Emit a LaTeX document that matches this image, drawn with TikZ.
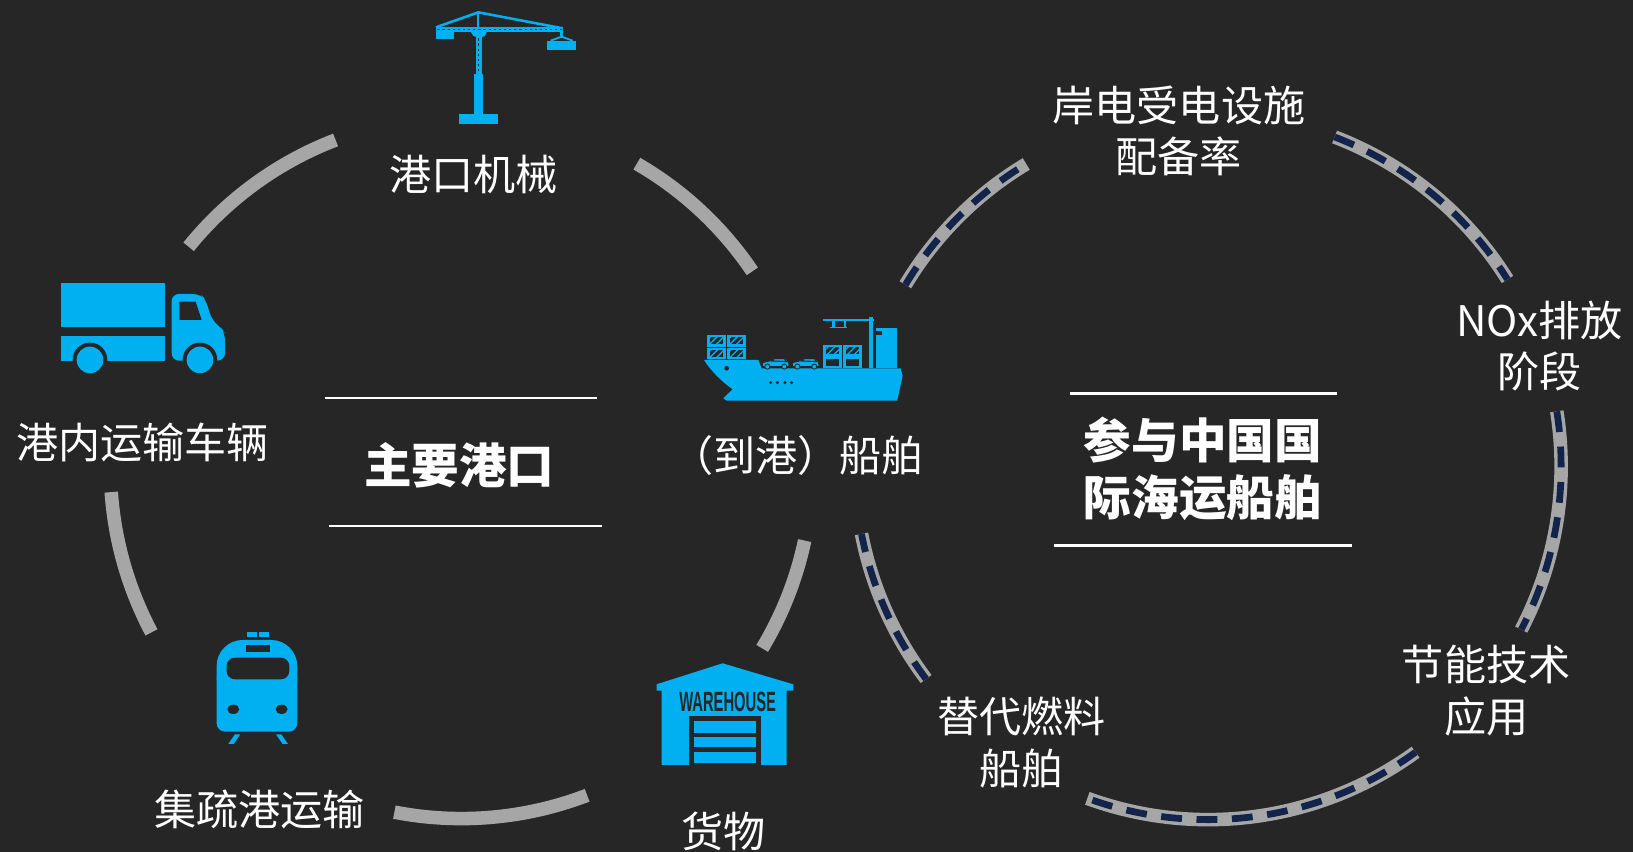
\documentclass[tikz,border=0pt]{standalone}
\usepackage{fontspec}
\setmainfont{Liberation Sans}
\newfontfamily\cjk{Noto Sans CJK SC}
\usepackage{tikz}
\usetikzlibrary{patterns.meta}

\definecolor{bgdark}{HTML}{262626}
\definecolor{iconblue}{HTML}{00B0F0}
\definecolor{ringgray}{HTML}{A6A6A6}
\definecolor{dashnavy}{HTML}{13244A}

\tikzset{
    ring/.style={line width=0.13cm, ringgray},
    dashring/.style={line width=0.065cm, dashnavy, dash pattern=on 0.2cm off 0.14cm},
    txt/.style={text=white, font=\cjk\fontsize{11.5}{14}\selectfont, align=center, inner sep=0pt},
    headline/.style={text=white, font=\cjk\bfseries\fontsize{13}{15.6}\selectfont, align=center, inner sep=0pt},
    hrule/.style={white, line width=0.7pt},
    hatched/.style={pattern={Lines[angle=45, distance=1.3pt, line width=0.35pt]}, pattern color=iconblue},
}

\begin{document}
\begin{tikzpicture}[x=0.01cm, y=-0.01cm]
    % Dark background, also fixes the page size
    \fill[bgdark] (0,0) rectangle (1568,818);
    \useasboundingbox (0,0) rectangle (1568,818);

    % Centres of the two rings
    \coordinate (L) at (443,449);
    \coordinate (R) at (1160,448);

    % Left ring: plain grey arcs
    \foreach \a/\b in {219/249, 300/326, 12/31, 69/101, 152/176}
        \draw[ring] (L) ++(\a:337) arc[start angle=\a, end angle=\b, radius=337];

    % Right ring: grey arcs with a dashed navy line on top
    \foreach \a/\b in {211/239, 291/328, -9/27.5, 54/110, 143/169} {
        \draw[ring] (R) ++(\a:339) arc[start angle=\a, end angle=\b, radius=339];
        \draw[dashring] (R) ++(\a:339) arc[start angle=\a, end angle=\b, radius=339];
    }

    % Labels round the left ring
    \node[txt] (portmach) at (455,168) {港口机械};
    \node[txt] (truckveh) at (137,425) {港内运输车辆};
    \node[txt] (feeder) at (249,777) {集疏港运输};
    \node[txt] (cargo) at (695,798) {货物};
    \node[txt] (ship) at (766,437) {（到港）船舶};
    \node[headline] (mainport) at (441,447) {主要港口};

    % Labels round the right ring
    \node[txt] (shore) at (1132,126) {岸电受电设施\\配备率};
    \node[txt] (nox) at (1478,332) {NOx排放\\阶段};
    \node[txt] (energy) at (1427,663) {节能技术\\应用};
    \node[txt] (altfuel) at (981,713) {替代燃料\\船舶};
    \node[headline] (intl) at (1155,450) {参与中国国\\际海运船舶};

    % Rules above and below the two titles
    \draw[hrule] (312,382) -- (573,382);
    \draw[hrule] (316,505) -- (578,505);
    \draw[hrule] (1027,378) -- (1284,378);
    \draw[hrule] (1012,524) -- (1298,524);

    % Tower crane
    \begin{scope}[shift={(403.3,0)}, scale=0.32]
        \fill[iconblue] (118,342) rectangle (235,372);
        \fill[iconblue] (163,222) rectangle (188,342);
        \fill[iconblue] (168,100) rectangle (185,222);
        \fill[iconblue] (48,82) rectangle (428,95);
        \fill[iconblue] (48,95) rectangle (103,118);
        \fill[iconblue] (150,92) -- (202,92) -- (195,108) -- (178,114) -- (160,108) -- cycle;
        \fill[iconblue] (172,37) rectangle (178,85);
        \draw[iconblue, line width=0.7pt] (48,82) -- (175,37) -- (428,85);
        \draw[iconblue, line width=0.7pt] (425,95) -- (425,110);
        \draw[iconblue, line width=0.5pt] (392,122) -- (425,110) -- (458,122);
        \fill[iconblue] (382,122) rectangle (468,150);
        % lattice marks
        \draw[bgdark, line width=0.3pt, dash pattern=on 0.6pt off 0.8pt] (52,88.5) -- (425,88.5);
        \draw[bgdark, line width=0.3pt, dash pattern=on 0.6pt off 0.8pt] (176.5,115) -- (176.5,220);
    \end{scope}

    % Delivery truck
    \begin{scope}[shift={(48.0,259.2)}, scale=0.32]
        \fill[iconblue] (32,38) rectangle (345,172);
        \fill[iconblue] (32,197) rectangle (345,272);
        \fill[iconblue, rounded corners=2pt] (365,272) -- (365,72) -- (450,72) -- (468,90)
            -- (485,150) -- (515,175) -- (525,190) -- (525,272) -- cycle;
        \fill[bgdark] (388,95) -- (437,95) -- (455,150) -- (388,150) -- cycle;
        \foreach \wx in {120, 450} {
            \fill[bgdark] (\wx,270) circle[radius=52];
            \fill[iconblue] (\wx,270) circle[radius=40];
        }
    \end{scope}

    % Cargo ship
    \begin{scope}[shift={(662.5,288.0)}, scale=0.32]
        \fill[iconblue] (42,180) -- (205,180) -- (215,205) -- (632,205) -- (638,228)
            -- (622,302) -- (110,302) -- (100,295) -- (128,268)
            .. controls (95,245) and (62,212) .. (42,180) -- cycle;
        \fill[bgdark] (110,205) circle[radius=7];
        \foreach \px in {242, 262, 285, 305}
            \fill[bgdark] (\px,248) circle[radius=5];
        % containers
        \foreach \cx/\cy in {52/105, 112/105, 52/143, 112/143, 400/135, 460/135} {
            \fill[iconblue] (\cx,\cy) rectangle ++(55,35);
            \fill[bgdark] (\cx+7,\cy+7) rectangle ++(41,21);
            \fill[hatched] (\cx+7,\cy+7) rectangle ++(41,21);
        }
        \foreach \cx in {400, 460} {
            \fill[iconblue] (\cx,170) rectangle ++(55,35);
            \fill[bgdark] (\cx+7,177) rectangle ++(41,21);
        }
        % cars on deck
        \foreach \dx in {0, 90} {
            \begin{scope}[xshift=\dx*0.01cm]
                \fill[iconblue, draw=bgdark, line width=0.3pt] (217,200) -- (217,188) -- (238,183)
                    -- (252,173) -- (285,173) -- (296,186) -- (298,200) -- cycle;
                \draw[bgdark, line width=0.3pt] (244,183) -- (254,176) -- (283,176) -- (290,185) -- cycle;
                \fill[bgdark] (232,200) circle[radius=9];
                \fill[bgdark] (283,200) circle[radius=9];
                \fill[iconblue] (232,200) circle[radius=6];
                \fill[iconblue] (283,200) circle[radius=6];
            \end{scope}
        }
        % mast and boom
        \fill[iconblue] (538,50) rectangle (550,205);
        \fill[iconblue] (400,58) rectangle (552,64);
        \draw[iconblue, line width=0.7pt] (430,64) -- (430,82) (465,64) -- (465,82);
        \fill[iconblue] (420,80) rectangle (470,85);
        % bridge
        \fill[iconblue] (558,85) rectangle (622,205);
        \fill[bgdark] (558,92) rectangle (576,104);
    \end{scope}

    % Train
    \begin{scope}[shift={(192.0,595.3)}, scale=0.32]
        \fill[iconblue] (140,35) rectangle (170,50);
        \fill[iconblue] (178,35) rectangle (208,50);
        \fill[iconblue, rounded corners=0.25cm] (50,60) rectangle (292,250);
        \fill[iconblue, rounded corners=0.08cm] (50,150) rectangle (292,335);
        \fill[bgdark] (137,75) rectangle (210,95);
        \fill[bgdark, rounded corners=0.08cm] (80,113) rectangle (268,178);
        \fill[bgdark] (100,268) ellipse[x radius=18, y radius=14];
        \fill[bgdark] (245,268) ellipse[x radius=18, y radius=14];
        \fill[iconblue] (105,343) -- (121,343) -- (101,372) -- (85,372) -- cycle;
        \fill[iconblue] (228,343) -- (244,343) -- (264,372) -- (248,372) -- cycle;
    \end{scope}

    % Warehouse
    \begin{scope}[shift={(624.1,624.1)}, scale=0.32]
        \fill[iconblue] (20,103) -- (218,40) -- (430,103) -- (430,122) -- (410,122)
            -- (410,345) -- (35,345) -- (35,122) -- (20,122) -- cycle;
        \fill[bgdark] (118,197) rectangle (332,345);
        \foreach \sy/\ey in {212/248, 262/292, 306/340}
            \fill[iconblue] (133,\sy) rectangle (318,\ey);
        \node[text=bgdark, inner sep=0pt, font=\bfseries\fontsize{7.6}{8}\selectfont]
            (whsign) at (233,155) {\scalebox{0.53}[1]{WAREHOUSE}};
    \end{scope}
\end{tikzpicture}
\end{document}
